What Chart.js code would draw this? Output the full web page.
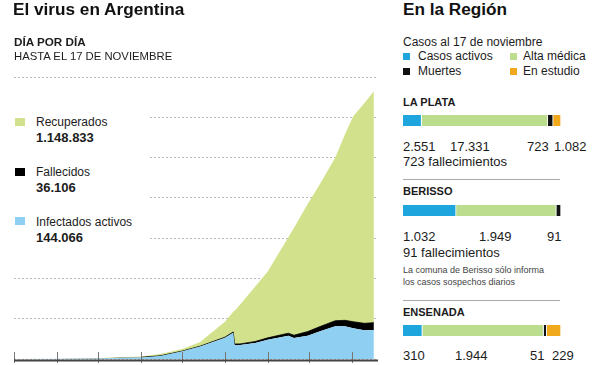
<!DOCTYPE html>
<html>
<head>
<meta charset="utf-8">
<script src="https://cdn.jsdelivr.net/npm/chart.js@4.4.0/dist/chart.umd.min.js"></script>
<style>
  body { margin:0; width:600px; height:365px; overflow:hidden; background:#fff; position:relative;
         font-family:"Liberation Sans", Arial, sans-serif; color:#1c1c1c; }
  .t { position:absolute; white-space:nowrap; line-height:1; }
  .sq { position:absolute; }
  #evolucion { position:absolute; left:0; top:0; }
  #tapa { position:absolute; left:0; top:104px; width:148px; height:146px; background:#fff; }
  .barra { position:absolute; left:403px; }
  .sep { position:absolute; left:403px; width:157px; height:1px; background:#aaa; }
</style>
</head>
<body>
<canvas id="evolucion" width="390" height="365"></canvas>
<div id="tapa"></div>

<div class="t" style="left:13px;top:0.5px;font-size:17.2px;font-weight:bold;color:#111">El virus en Argentina</div>
<div class="t" style="left:14px;top:36px;font-size:11.7px;font-weight:bold">DÍA POR DÍA</div>
<div class="t" style="left:14px;top:51px;font-size:11.3px">HASTA EL 17 DE NOVIEMBRE</div>

<div class="sq" style="left:15px;top:118px;width:10px;height:8px;background:#d2e28c"></div>
<div class="t" style="left:36px;top:116px;font-size:12px">Recuperados</div>
<div class="t" id="vRec" style="left:36px;top:131px;font-size:13px;font-weight:bold"></div>
<div class="sq" style="left:15px;top:168px;width:10px;height:8px;background:#000"></div>
<div class="t" style="left:36px;top:166px;font-size:12px">Fallecidos</div>
<div class="t" id="vFal" style="left:36px;top:181px;font-size:13px;font-weight:bold"></div>
<div class="sq" style="left:15px;top:217px;width:10px;height:8px;background:#8fd0f2"></div>
<div class="t" style="left:36px;top:216px;font-size:12px">Infectados activos</div>
<div class="t" id="vAct" style="left:36px;top:231px;font-size:13px;font-weight:bold"></div>

<div class="t" style="left:403px;top:0.5px;font-size:17.2px;font-weight:bold;color:#111">En la Región</div>
<div class="t" style="left:403px;top:36px;font-size:12px">Casos al 17 de noviembre</div>
<div class="sq" style="left:403px;top:53px;width:7px;height:7px;background:#1ea5de"></div>
<div class="t" style="left:418px;top:50px;font-size:12px">Casos activos</div>
<div class="sq" style="left:510px;top:53px;width:7px;height:7px;background:#bcdc8e"></div>
<div class="t" style="left:523px;top:50px;font-size:12px">Alta médica</div>
<div class="sq" style="left:403px;top:68px;width:7px;height:7px;background:#111"></div>
<div class="t" style="left:418px;top:65px;font-size:12px">Muertes</div>
<div class="sq" style="left:510px;top:68px;width:7px;height:7px;background:#f0a81c"></div>
<div class="t" style="left:523px;top:65px;font-size:12px">En estudio</div>

<div id="region"></div>

<script>
// dias desde el 1 de marzo de 2020
const dias        = [0, 31, 61, 92, 106, 122, 135, 153, 159, 160, 164, 175, 184, 199, 203, 213, 222, 233, 240, 246, 254, 261];
const activos     = [0, 900, 3000, 8000, 15000, 38000, 62000, 105000, 130000, 70000, 70000, 80000, 96000, 115000, 104000, 116000, 138000, 162000, 162000, 153000, 142500, 144066];
const fallecidos  = [0, 30, 200, 500, 800, 1200, 1800, 3500, 4400, 4500, 5000, 7000, 9000, 13000, 14000, 20000, 23000, 28000, 30000, 32000, 34500, 36106];
const recuperados = [0, 70, 1200, 3500, 9200, 10800, 21200, 76500, 100600, 165500, 195000, 273000, 330000, 477000, 532000, 634000, 709000, 810000, 923000, 1020000, 1093000, 1148833];
// marcas: primer dia de cada mes (mar a nov)
const inicioMes = [0, 31, 61, 92, 122, 153, 184, 214, 245];

// En la Region
const ciudades     = ['LA PLATA', 'BERISSO', 'ENSENADA'];
const casosActivos = [2551, 1032, 310];
const altaMedica   = [17331, 1949, 1944];
const muertes      = [723, 91, 51];
const enEstudio    = [1082, 0, 229];
const notas        = ['723 fallecimientos', '91 fallecimientos', ''];

function puntos(n){
  return String(n).replace(/\B(?=(\d{3})+(?!\d))/g, '.');
}

document.getElementById('vRec').textContent = puntos(recuperados[recuperados.length-1]);
document.getElementById('vFal').textContent = puntos(fallecidos[fallecidos.length-1]);
document.getElementById('vAct').textContent = puntos(activos[activos.length-1]);

const marcasMes = {
  id: 'marcasMes',
  afterDatasetsDraw(chart) {
    const { ctx, chartArea, scales: { x } } = chart;
    ctx.save();
    ctx.strokeStyle = '#777';
    ctx.lineWidth = 1;
    inicioMes.forEach(d => {
      let px = Math.round(x.getPixelForValue(d)) + 0.5;
      ctx.beginPath();
      ctx.moveTo(px, chartArea.bottom - 7);
      ctx.lineTo(px, chartArea.bottom + 4);
      ctx.stroke();
    });
    ctx.strokeStyle = '#444';
    ctx.lineWidth = 2;
    ctx.beginPath();
    ctx.moveTo(chartArea.left, chartArea.bottom + 1.5);
    ctx.lineTo(chartArea.right, chartArea.bottom + 1.5);
    ctx.stroke();
    ctx.restore();
  }
};

let serie = (arr) => dias.map((d, i) => ({ x: d, y: arr[i] }));

new Chart(document.getElementById('evolucion'), {
  type: 'line',
  data: {
    datasets: [
      { label: 'Infectados activos', data: serie(activos), backgroundColor: '#8fd0f2', borderWidth: 0, fill: 'origin' },
      { label: 'Fallecidos', data: serie(fallecidos), backgroundColor: '#000', borderColor: '#000', borderWidth: 0.8, fill: '-1',
        segment: { borderColor: ctx => ctx.p0.parsed.x < 92 ? 'rgba(0,0,0,0)' : '#000' } },
      { label: 'Recuperados', data: serie(recuperados), backgroundColor: '#d2e28c', borderWidth: 0, fill: '-1' }
    ]
  },
  options: {
    responsive: false,
    animation: false,
    layout: { padding: { left: 14, right: 12, top: 77, bottom: 6 } },
    plugins: { legend: { display: false }, tooltip: { enabled: false } },
    elements: { point: { radius: 0 }, line: { tension: 0 } },
    scales: {
      x: { type: 'linear', min: 0, max: 264, ticks: { display: false }, grid: { display: false, drawTicks: false }, border: { display: false } },
      y: { stacked: true, min: 0, max: 1400000, ticks: { display: false, stepSize: 200000 },
           grid: { color: '#bbb', drawTicks: false, lineWidth: 1 }, border: { display: false, dash: [2, 2] } }
    }
  },
  plugins: [marcasMes]
});

// bloques de cada ciudad
const region = document.getElementById('region');
const topTitulo = [96.5, 186, 306.5];
const topBarra  = [115, 205, 325];
const topValor  = [139.5, 230, 349];
const xValores  = [[403, 450, 527, 554], [403, 479, 547, 0], [403, 455, 530, 552]];
const colores   = ['#1ea5de', '#bcdc8e', '#111', '#f0a81c'];

function agregar(html){ region.insertAdjacentHTML('beforeend', html); }

ciudades.forEach((c, i) => {
  agregar(`<div class="t" style="left:403px;top:${topTitulo[i]}px;font-size:11px;font-weight:bold">${c}</div>`);
  agregar(`<canvas class="barra" id="b${i}" width="158" height="11" style="top:${topBarra[i]}px"></canvas>`);
  let vals = [casosActivos[i], altaMedica[i], muertes[i], enEstudio[i]];
  vals.forEach((v, k) => {
    if (v > 0) agregar(`<div class="t" style="left:${xValores[i][k]}px;top:${topValor[i]}px;font-size:13px">${puntos(v)}</div>`);
  });
  if (notas[i]) agregar(`<div class="t" style="left:403px;top:${topValor[i] + 15.5}px;font-size:13px">${notas[i]}</div>`);

  let total = vals.reduce((a, b) => a + b, 0);
  new Chart(document.getElementById('b' + i), {
    type: 'bar',
    data: {
      labels: [c],
      datasets: vals.map((v, k) => ({
        data: [v], backgroundColor: colores[k], borderColor: '#fff',
        borderWidth: { right: 1 }, borderSkipped: false,
        barPercentage: 1, categoryPercentage: 1
      }))
    },
    options: {
      indexAxis: 'y', responsive: false, animation: false,
      layout: { padding: 0 },
      plugins: { legend: { display: false }, tooltip: { enabled: false } },
      scales: {
        x: { display: false, stacked: true, min: 0, max: total },
        y: { display: false, stacked: true }
      }
    }
  });
});

agregar('<div class="sep" style="top:179px"></div>');
agregar('<div class="sep" style="top:300px"></div>');
agregar('<div class="t" style="left:403px;top:265.5px;font-size:9px;color:#444">La comuna de Berisso sólo informa</div>');
agregar('<div class="t" style="left:403px;top:277.5px;font-size:9px;color:#444">los casos sospechos diarios</div>');
</script>
</body>
</html>
